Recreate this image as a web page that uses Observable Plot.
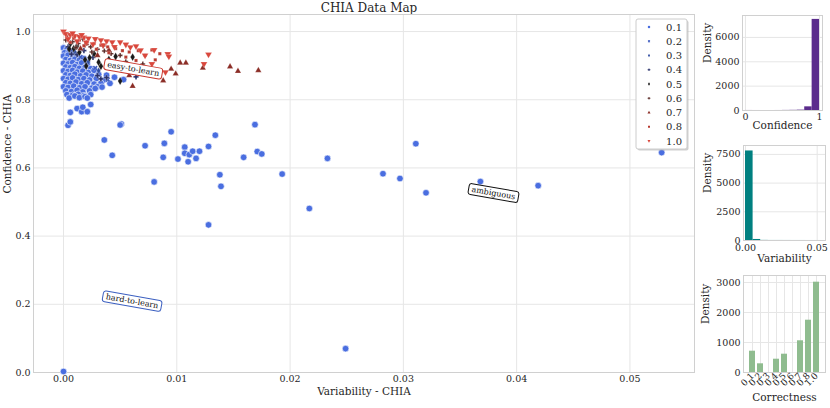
<!DOCTYPE html>
<html><head><meta charset="utf-8">
<script src="https://cdn.jsdelivr.net/npm/d3@7"></script>
<script src="https://cdn.jsdelivr.net/npm/@observablehq/plot@0.6"></script>
<style>
body{margin:0;background:#fff;}
#wrap{position:relative;width:830px;height:408px;font-family:"DejaVu Serif",serif;color:#262626;overflow:hidden;}
#wrap svg{position:absolute;}
#title{position:absolute;left:0;width:738px;top:1px;text-align:center;font-size:12px;}
</style></head><body><div id="wrap"><div id="title">CHIA Data Map</div></div>
<script>
// ---------- data ----------
const categories = ["0.1","0.2","0.3","0.4","0.5","0.6","0.7","0.8","1.0"];
const catColors = ["#4a6ee0","#3e5cc0","#3350a3","#28306a","#1a1a1a","#5a2a26","#8b2d26","#b83a30","#d9473c"];

// variability, confidence pairs per correctness category
const pts01 = [
 [0.0000,0.952],[0.0003,0.948],[0.0001,0.938],[0.0005,0.941],[0.0009,0.936],
 [0.0000,0.928],[0.0004,0.931],[0.0008,0.925],[0.0012,0.929],
 [0.0002,0.918],[0.0006,0.915],[0.0010,0.919],[0.0014,0.916],[0.0018,0.921],
 [0.0000,0.907],[0.0004,0.905],[0.0008,0.909],[0.0012,0.903],[0.0016,0.908],[0.0021,0.905],
 [0.0002,0.896],[0.0006,0.894],[0.0010,0.897],[0.0014,0.892],[0.0019,0.895],[0.0024,0.891],
 [0.0000,0.885],[0.0004,0.883],[0.0008,0.886],[0.0012,0.881],[0.0017,0.884],[0.0022,0.880],[0.0027,0.886],
 [0.0002,0.873],[0.0006,0.871],[0.0010,0.875],[0.0015,0.870],[0.0020,0.873],[0.0025,0.869],[0.0031,0.874],
 [0.0000,0.862],[0.0004,0.860],[0.0008,0.864],[0.0013,0.859],[0.0018,0.862],[0.0023,0.858],[0.0029,0.862],[0.0035,0.857],
 [0.0002,0.850],[0.0006,0.848],[0.0011,0.852],[0.0016,0.847],[0.0021,0.850],[0.0027,0.846],[0.0033,0.848],[0.0041,0.848],
 [0.0000,0.838],[0.0004,0.836],[0.0009,0.840],[0.0014,0.835],[0.0019,0.838],[0.0025,0.834],[0.0030,0.838],[0.0034,0.837],
 [0.0002,0.826],[0.0007,0.824],[0.0012,0.828],[0.0017,0.823],[0.0023,0.826],[0.0028,0.833],
 [0.0003,0.815],[0.0008,0.813],[0.0013,0.816],[0.0018,0.812],[0.0024,0.815],
 [0.0005,0.805],[0.0010,0.811],[0.0014,0.806],[0.0019,0.809],[0.0021,0.805],
 [0.0053,0.859],[0.0045,0.866],[0.0038,0.872],
 [0.0004,0.725],[0.0006,0.735],[0.0006,0.763],[0.0012,0.774],[0.0016,0.765],[0.0017,0.778],[0.0021,0.765],[0.0024,0.786],
 [0.0036,0.682],[0.0043,0.637],[0.0051,0.729],[0.0050,0.726],[0.0072,0.665],[0.0080,0.559],[0.0088,0.631],[0.0089,0.672],
 [0.0095,0.706],[0.0101,0.626],[0.0107,0.661],[0.0107,0.643],[0.0110,0.618],[0.0111,0.639],[0.0114,0.649],[0.0117,0.628],
 [0.0120,0.649],[0.0128,0.663],[0.0134,0.696],[0.0138,0.580],[0.0139,0.546],[0.0159,0.631],[0.0169,0.727],[0.0171,0.648],
 [0.0175,0.641],[0.0193,0.582],[0.0233,0.628],[0.0282,0.583],[0.0297,0.569],[0.0311,0.671],[0.0320,0.527],[0.0368,0.560],
 [0.0419,0.548],[0.0528,0.645],[0.0128,0.433],[0.0217,0.481],[0.0249,0.070],[0.0000,0.003]
];
const pts02 = [[0.0039,0.859],[0.0028,0.893],[0.0015,0.925],[0.0007,0.945]];
const pts03 = [[0.0022,0.912],[0.0010,0.940],[0.0031,0.885]];
const pts04 = [[0.0007,0.934],[0.0012,0.932],[0.0033,0.861],[0.0038,0.865],[0.0064,0.867],[0.0030,0.871],[0.0018,0.944],[0.0026,0.924],[0.0004,0.955]];
const pts05 = [[0.0006,0.964],[0.0014,0.939],[0.0019,0.917],[0.0023,0.923],[0.0020,0.899],[0.0031,0.910],[0.0033,0.898],[0.0050,0.855],[0.0046,0.927],[0.0061,0.925],[0.0005,0.949],[0.0009,0.950],[0.0027,0.935],[0.0040,0.918],[0.0012,0.958]];
const pts06 = [[0.0002,0.975],[0.0008,0.970],[0.0013,0.965],[0.0019,0.960],[0.0024,0.955],[0.0030,0.948],[0.0036,0.943],[0.0042,0.935],[0.0050,0.930],[0.0011,0.953],[0.0025,0.940],[0.0017,0.978],[0.0035,0.958],[0.0055,0.912],[0.0070,0.905]];
const pts07 = [[0.0061,0.840],[0.0088,0.856],[0.0095,0.890],[0.0099,0.876],[0.0103,0.908],[0.0108,0.908],[0.0123,0.893],[0.0147,0.897],[0.0154,0.884],[0.0172,0.886],[0.0058,0.871],[0.0045,0.905],[0.0030,0.930],[0.0015,0.950],[0.0073,0.888],[0.0040,0.945],[0.0020,0.965]];
const pts08 = [[0.0003,0.985],[0.0009,0.980],[0.0014,0.975],[0.0021,0.970],[0.0027,0.965],[0.0033,0.960],[0.0039,0.955],[0.0046,0.950],[0.0052,0.944],[0.0058,0.940],[0.0066,0.944],[0.0078,0.946],[0.0081,0.917],[0.0064,0.915],[0.0072,0.930],[0.0085,0.935],[0.0006,0.968],[0.0018,0.958],[0.0029,0.948],[0.0040,0.938],[0.0055,0.925]];
const pts10 = [[0.0000,1.000],[0.0002,0.993],[0.0006,0.990],[0.0010,0.987],[0.0014,0.985],[0.0018,0.983],[0.0022,0.980],[0.0028,0.978],[0.0033,0.975],[0.0038,0.972],[0.0043,0.969],[0.0050,0.969],[0.0055,0.962],[0.0059,0.954],[0.0064,0.957],[0.0072,0.930],[0.0080,0.946],[0.0078,0.905],[0.0090,0.881],[0.0092,0.934],[0.0093,0.927],[0.0124,0.905],[0.0128,0.933],[0.0004,0.978],[0.0012,0.972],[0.0020,0.968],[0.0026,0.963],[0.0035,0.960],[0.0045,0.955],[0.0068,0.945],[0.0008,0.995],[0.0016,0.990]];

const mainXTicks = [0, 0.01, 0.02, 0.03, 0.04, 0.05];
const mainYTicks = [0, 0.2, 0.4, 0.6, 0.8, 1.0];

const annTexts = ["easy-to-learn", "ambiguous", "hard-to-learn"];
const annX = [0.0062, 0.0380, 0.0061];
const annY = [0.889, 0.525, 0.208];
const annColors = ["#c8372d", "#111111", "#3b5fc0"];

// histograms
const confLo = [0.0,0.1,0.2,0.3,0.4,0.5,0.6,0.7,0.8,0.9];
const confHi = [0.1,0.2,0.3,0.4,0.5,0.6,0.7,0.8,0.9,1.0];
const confDensity = [3,1,0,0,2,8,15,30,300,7480];
const confXTicks = [0, 1];
const confYTicks = [0, 2000, 4000, 6000];

const varLo = [0,0.0053,0.0106,0.0159,0.0212,0.0265,0.0318,0.0371,0.0424,0.0477];
const varHi = [0.0053,0.0106,0.0159,0.0212,0.0265,0.0318,0.0371,0.0424,0.0477,0.0530];
const varDensity = [7800,90,10,4,4,3,2,2,1,1];
const varXTicks = [0, 0.05];
const varYTicks = [0, 2500, 5000, 7500];

const corrDensity = [710,290,0,443,610,0,1057,1743,3010];
const corrYTicks = [0, 1000, 2000, 3000];

// ---------- symbols ----------
const S3 = Math.sqrt(3);
const symTriDown = {draw(ctx, size){ const y = -Math.sqrt(size/(S3*3)); ctx.moveTo(0,-y*2); ctx.lineTo(-S3*y,y); ctx.lineTo(S3*y,y); ctx.closePath(); }};
const symXFill = {draw(ctx, size){ const r = Math.sqrt(size/5)/2;
  const p = [[-3*r,-r],[-r,-r],[-r,-3*r],[r,-3*r],[r,-r],[3*r,-r],[3*r,r],[r,r],[r,3*r],[-r,3*r],[-r,r],[-3*r,r]];
  const c = Math.SQRT1_2; p.forEach(([x,y],i)=>{const X=(x-y)*c, Y=(x+y)*c; i?ctx.lineTo(X,Y):ctx.moveTo(X,Y);}); ctx.closePath(); }};
const catSymbols = [d3.symbolCircle, symXFill, d3.symbolDiamond, d3.symbolCross, d3.symbolDiamond, d3.symbolCross, d3.symbolTriangle, d3.symbolSquare, symTriDown];
const catR = [3.3, 2.3, 2.1, 2.2, 2.4, 2.0, 2.3, 1.8, 2.5];
const series = [pts01, pts02, pts03, pts04, pts05, pts06, pts07, pts08, pts10];

const FONT = "DejaVu Serif";
const GRID = "#e6e6e6", FRAME = "#d0d0d0", TXT = "#262626";
const wrap = document.getElementById("wrap");

// ---------- annotation mark ----------
const measure = document.createElement("canvas").getContext("2d");
function annotationMark(index, scales) {
  const g = d3.create("svg:g");
  annTexts.forEach((t, i) => {
    const X = scales.x(annX[i]), Y = scales.y(annY[i]);
    measure.font = `8px "${FONT}"`;
    const w = measure.measureText(t).width + 6, h = 11;
    const gg = g.append("g").attr("transform", `translate(${X},${Y}) rotate(10)`);
    gg.append("rect").attr("x", -w/2).attr("y", -h/2).attr("width", w).attr("height", h)
      .attr("rx", 2.5).attr("fill", "white").attr("stroke", annColors[i]).attr("stroke-width", 1);
    gg.append("text").attr("text-anchor", "middle").attr("dy", "0.33em")
      .attr("font-size", 8).attr("font-family", FONT).attr("fill", "#111").text(t);
  });
  return g.node();
}

// ---------- main scatter ----------
const dotMarks = series.map((pts, i) => Plot.dot(pts, {
  x: d => d[0], y: d => d[1], symbol: catSymbols[i], r: catR[i],
  fill: catColors[i], stroke: "white", strokeWidth: i === 0 ? 0.6 : 0.2
}));

const main = Plot.plot({
  width: 700, height: 408,
  marginLeft: 33, marginRight: 6, marginTop: 14, marginBottom: 36,
  style: {fontFamily: FONT, fontSize: "9.5px", color: TXT, background: "transparent"},
  x: {domain: [-0.00265, 0.0557]},
  y: {domain: [0, 1.05]},
  marks: [
    Plot.gridX(mainXTicks, {stroke: GRID, strokeOpacity: 1}),
    Plot.gridY(mainYTicks, {stroke: GRID, strokeOpacity: 1}),
    Plot.frame({stroke: FRAME}),
    Plot.axisX(mainXTicks, {tickSize: 0, tickPadding: 3, tickFormat: d3.format(".2f"), label: null}),
    Plot.axisY(mainYTicks, {tickSize: 0, tickPadding: 3, tickFormat: d3.format(".1f"), label: null}),
    ...dotMarks,
    annotationMark,
    Plot.text(["Variability - CHIA"], {text: d => d, frameAnchor: "bottom", dy: 22, fontSize: 10.5}),
    Plot.text(["Confidence - CHIA"], {text: d => d, frameAnchor: "left", dx: -26, rotate: -90, fontSize: 10.5})
  ]
});
main.style.left = "0px"; main.style.top = "0px";
wrap.appendChild(main);

// ---------- legend ----------
const leg = d3.create("svg").attr("width", 56).attr("height", 134)
  .style("left", "635px").style("top", "18px").style("overflow", "visible");
leg.append("rect").attr("x", 2.5).attr("y", 2.5).attr("width", 51).attr("height", 130).attr("rx", 2)
  .attr("fill", "#b0b0b0").attr("opacity", 0.6);
leg.append("rect").attr("x", 1).attr("y", 1).attr("width", 51).attr("height", 130).attr("rx", 2)
  .attr("fill", "white").attr("stroke", "#cccccc");
categories.forEach((c, i) => {
  const yy = 9 + i * 14.25;
  leg.append("path").attr("transform", `translate(14,${yy})`)
    .attr("d", d3.symbol().type(catSymbols[i]).size(i === 0 ? 5 : 4)()).attr("fill", catColors[i]);
  leg.append("text").attr("x", 47).attr("y", yy).attr("dy", "0.35em").attr("text-anchor", "end")
    .attr("font-size", 10).attr("font-family", FONT).attr("fill", TXT).text(c);
});
wrap.appendChild(leg.node());

// ---------- histograms ----------
function hist(opts) {
  const p = Plot.plot({
    width: 130, height: opts.height,
    marginLeft: opts.ml, marginRight: opts.mr, marginTop: opts.mt, marginBottom: opts.mb,
    style: {fontFamily: FONT, fontSize: "9.5px", color: TXT, background: "transparent", overflow: "visible"},
    x: opts.x, y: opts.y,
    marks: [
      opts.gridX,
      Plot.gridY(opts.yTicks, {stroke: GRID, strokeOpacity: 1}),
      Plot.frame({stroke: FRAME}),
      ...opts.bars,
      opts.axisX,
      Plot.axisY(opts.yTicks, {tickSize: 0, tickPadding: 3, tickFormat: d3.format("d"), label: null}),
      Plot.text([opts.xlabel], {text: d => d, frameAnchor: "bottom", dy: opts.xlDy, fontSize: 10.5}),
      Plot.text(["Density"], {text: d => d, frameAnchor: "left", dx: opts.ylDx, rotate: -90, fontSize: 10.5})
    ]
  });
  p.style.left = "700px"; p.style.top = opts.top + "px";
  wrap.appendChild(p);
}

const idx10 = d3.range(10);
hist({
  top: 0, height: 135, ml: 42, mr: 8, mt: 15, mb: 25,
  x: {domain: [-0.04, 1.04]}, y: {domain: [0, 7800]}, yTicks: confYTicks,
  gridX: Plot.gridX(confXTicks, {stroke: GRID, strokeOpacity: 1}),
  bars: [Plot.rectY(idx10, {x1: i => confLo[i], x2: i => confHi[i], y: i => confDensity[i], fill: "#5b2c8c"})],
  axisX: Plot.axisX(confXTicks, {tickSize: 0, tickPadding: 3, tickFormat: d3.format("d"), label: null}),
  xlabel: "Confidence", xlDy: 18, ylDx: -35
});
hist({
  top: 135, height: 135, ml: 43, mr: 5, mt: 10, mb: 30,
  x: {domain: [-0.0014, 0.0558]}, y: {domain: [0, 8275]}, yTicks: varYTicks,
  gridX: Plot.gridX(varXTicks, {stroke: GRID, strokeOpacity: 1}),
  bars: [Plot.rectY(idx10, {x1: i => varLo[i], x2: i => varHi[i], y: i => varDensity[i], fill: "#008080"})],
  axisX: Plot.axisX(varXTicks, {tickSize: 0, tickPadding: 4, tickFormat: d3.format(".2f"), label: null}),
  xlabel: "Variability", xlDy: 21, ylDx: -36
});
const idx9 = d3.range(categories.length);
hist({
  top: 270, height: 138, ml: 43, mr: 5, mt: 5, mb: 36,
  x: {domain: categories, padding: 0.2}, y: {domain: [0, 3233]}, yTicks: corrYTicks,
  gridX: Plot.gridX(categories, {stroke: GRID, strokeOpacity: 1}),
  bars: [Plot.barY(idx9, {x: i => categories[i], y: i => corrDensity[i], fill: "#8fbc8f"})],
  axisX: Plot.axisX(categories, {tickSize: 0, tickPadding: 2, tickRotate: -45, label: null, fontSize: 9}),
  xlabel: "Correctness", xlDy: 28, ylDx: -38
});
</script></body></html>
